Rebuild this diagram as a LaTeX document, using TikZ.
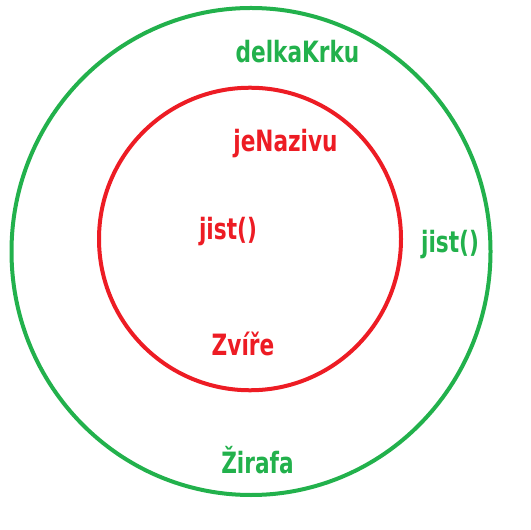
\documentclass[tikz,border=0pt]{standalone}
\usepackage{fontspec}
\setmainfont{DejaVu Sans Condensed}[FakeStretch=0.82]
\usepackage{tikz}
\usetikzlibrary{shapes.geometric}

\definecolor{paintgreen}{RGB}{34,177,76}
\definecolor{paintred}{RGB}{237,28,36}

\begin{document}
\begin{tikzpicture}[x=0.75pt, y=-0.75pt,
    ring/.style={draw, ellipse, line width=3pt, inner sep=0pt},
    txt/.style={font=\bfseries\fontsize{22}{24}\selectfont, anchor=base, inner sep=0pt}
]
    \useasboundingbox (0,0) rectangle (531,530);
    \node[ring, paintgreen, minimum width=359.25pt, minimum height=365.25pt] (zirafa) at (251,251.5) {};
    \node[ring, paintred, minimum width=226.5pt, minimum height=226.9pt] (zvire) at (250,239) {};
    \node[txt, paintgreen] (delka) at (297.5,63) {delkaKrku};
    \node[txt, paintgreen] (jistz) at (450,253) {jist()};
    \node[txt, paintgreen] (nazevz) at (257.5,473) {Žirafa};
    \node[txt, paintred] (nazivu) at (285.5,152) {jeNazivu};
    \node[txt, paintred] (jistv) at (228,240) {jist()};
    \node[txt, paintred] (nazevv) at (243,355) {Zvíře};
\end{tikzpicture}
\end{document}
